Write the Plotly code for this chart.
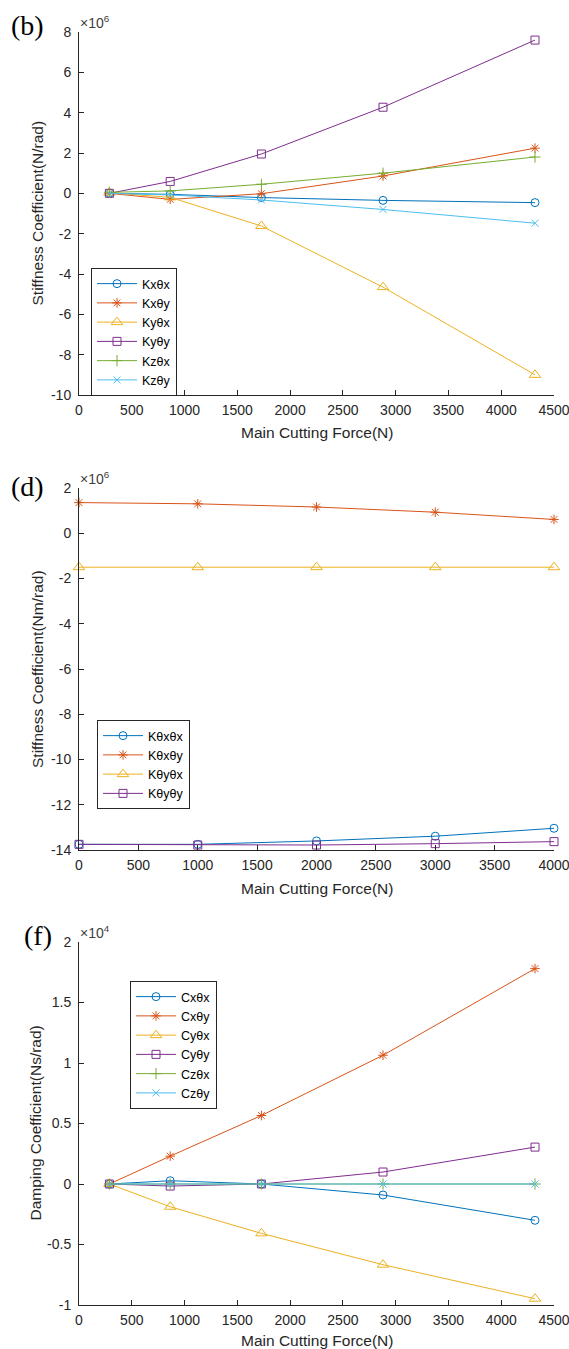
import plotly.graph_objects as go

W, H = 569, 1349

# ---------------- data ----------------
# Panel (b): stiffness coefficients (N/rad) vs main cutting force (N)
force_b = [288, 864, 1728, 2880, 4320]
K_x_tx = [0.0, -0.05e6, -0.21e6, -0.35e6, -0.46e6]
K_x_ty = [0.0, -0.30e6, -0.02e6, 0.86e6, 2.24e6]
K_y_tx = [0.03e6, -0.20e6, -1.62e6, -4.65e6, -9.00e6]
K_y_ty = [0.0, 0.59e6, 1.95e6, 4.27e6, 7.60e6]
K_z_tx = [0.05e6, 0.12e6, 0.45e6, 1.00e6, 1.80e6]
K_z_ty = [0.0, -0.08e6, -0.33e6, -0.80e6, -1.48e6]
names_b = ["Kxθx", "Kxθy", "Kyθx", "Kyθy", "Kzθx", "Kzθy"]

# Panel (d): stiffness coefficients (Nm/rad)
force_d = [0, 1000, 2000, 3000, 4000]
K_tx_tx = [-13.75e6, -13.75e6, -13.60e6, -13.39e6, -13.04e6]
K_tx_ty = [1.355e6, 1.30e6, 1.16e6, 0.93e6, 0.61e6]
K_ty_tx = [-1.50e6, -1.50e6, -1.50e6, -1.50e6, -1.50e6]
K_ty_ty = [-13.75e6, -13.78e6, -13.78e6, -13.72e6, -13.63e6]
names_d = ["Kθxθx", "Kθxθy", "Kθyθx", "Kθyθy"]

# Panel (f): damping coefficients (Ns/rad)
force_f = [288, 864, 1728, 2880, 4320]
C_x_tx = [0.0, 270.0, 0.0, -910.0, -3000.0]
C_x_ty = [0.0, 2300.0, 5660.0, 10640.0, 17800.0]
C_y_tx = [0.0, -1880.0, -4080.0, -6670.0, -9480.0]
C_y_ty = [0.0, -170.0, 0.0, 990.0, 3050.0]
C_z_tx = [0.0, 0.0, 0.0, 0.0, 0.0]
C_z_ty = [0.0, 0.0, 0.0, 0.0, 0.0]
names_f = ["Cxθx", "Cxθy", "Cyθx", "Cyθy", "Czθx", "Czθy"]

# axis ticks
xticks_45 = [0, 500, 1000, 1500, 2000, 2500, 3000, 3500, 4000, 4500]
xticks_40 = [0, 500, 1000, 1500, 2000, 2500, 3000, 3500, 4000]
yticks_b = [-10, -8, -6, -4, -2, 0, 2, 4, 6, 8]
yticks_d = [-14, -12, -10, -8, -6, -4, -2, 0, 2]
yticks_f = [-1, -0.5, 0, 0.5, 1, 1.5, 2]

# ---------------- style ----------------
colors = ["#0072BD", "#D95319", "#EDB120", "#7E2F8E", "#77AC30", "#4DBEEE"]
symbols = ["circle-open", "asterisk-open", "triangle-up-open", "square-open",
           "cross-thin-open", "x-thin-open"]
msizes = [8, 8, 10, 8, 8, 7]
AX = "#262626"
FONT = "Arial, Liberation Sans, sans-serif"
TICK_FS = 14
TITLE_FS = 15.5
LEG_FS = 12.5

# pixel layout
L, R = 79, 554
panels = {  # top, bottom in px
    1: (32, 395),
    2: (488, 850),
    3: (942, 1305),
}

def ydom(top, bot):
    return [1 - bot / H, 1 - top / H]

fig = go.Figure()

def add_series(xs, ys_list, names, idx, legend):
    for i, (ys, nm) in enumerate(zip(ys_list, names)):
        fig.add_trace(go.Scatter(
            x=xs, y=ys, name=nm, mode="lines+markers",
            xaxis="x" if idx == 1 else f"x{idx}",
            yaxis="y" if idx == 1 else f"y{idx}",
            legend=legend,
            cliponaxis=False,
            line=dict(color=colors[i], width=1),
            marker=dict(symbol=symbols[i], size=msizes[i], color=colors[i],
                        line=dict(color=colors[i], width=1)),
        ))

add_series(force_b, [K_x_tx, K_x_ty, K_y_tx, K_y_ty, K_z_tx, K_z_ty], names_b, 1, "legend")
add_series(force_d, [K_tx_tx, K_tx_ty, K_ty_tx, K_ty_ty], names_d, 2, "legend2")
add_series(force_f, [C_x_tx, C_x_ty, C_y_tx, C_y_ty, C_z_tx, C_z_ty], names_f, 3, "legend3")

def fmt(v):
    return f"{v:g}"

def xaxis(ticks, rng, anchor):
    return dict(
        domain=[L / W, R / W], range=rng, anchor=anchor,
        tickvals=ticks, ticktext=[fmt(t) for t in ticks],
        showline=True, linecolor=AX, linewidth=1, mirror=False,
        ticks="inside", ticklen=5, tickcolor=AX, tickwidth=1,
        showgrid=False, zeroline=False, automargin=False,
        tickfont=dict(family=FONT, size=TICK_FS, color=AX),
        ticklabelstandoff=2, ticklabeloverflow="allow",
    )

def yaxis(ticks, scale, rng, dom, anchor):
    return dict(
        domain=dom, range=rng, anchor=anchor,
        tickvals=[t * scale for t in ticks], ticktext=[fmt(t) for t in ticks],
        showline=True, linecolor=AX, linewidth=1, mirror=False,
        ticks="inside", ticklen=5, tickcolor=AX, tickwidth=1,
        showgrid=False, zeroline=False, automargin=False,
        tickfont=dict(family=FONT, size=TICK_FS, color=AX),
        ticklabelstandoff=4, ticklabeloverflow="allow",
    )

legend_common = dict(
    xanchor="left", yanchor="top", bgcolor="white",
    bordercolor=AX, borderwidth=1,
    font=dict(family=FONT, size=LEG_FS, color="black"),
    itemwidth=40, tracegroupgap=0,
)

fig.update_layout(
    width=W, height=H,
    margin=dict(l=0, r=0, t=0, b=0),
    paper_bgcolor="white", plot_bgcolor="white",
    showlegend=True,
    xaxis=xaxis(xticks_45, [0, 4500], "y"),
    yaxis=yaxis(yticks_b, 1e6, [-10e6, 8e6], ydom(*panels[1]), "x"),
    xaxis2=xaxis(xticks_40, [0, 4000], "y2"),
    yaxis2=yaxis(yticks_d, 1e6, [-14e6, 2e6], ydom(*panels[2]), "x2"),
    xaxis3=xaxis(xticks_45, [0, 4500], "y3"),
    yaxis3=yaxis(yticks_f, 1e4, [-1e4, 2e4], ydom(*panels[3]), "x3"),
    legend=dict(x=91 / W, y=1 - 268 / H, **legend_common),
    legend2=dict(x=97 / W, y=1 - 720 / H, **legend_common),
    legend3=dict(x=130 / W, y=1 - 981 / H, **legend_common),
)

annotations = []
ytitles = ["Stiffness Coefficient(N/rad)", "Stiffness Coefficient(Nm/rad)",
           "Damping Coefficient(Ns/rad)"]
xtitle_y = [432, 888, 1340]
ytitle_x = [37, 37, 35]
labels = ["(b)", "(d)", "(f)"]
label_pos = [(27, 25), (27, 486), (38, 935)]
exps = ["×10<sup>6</sup>", "×10<sup>6</sup>", "×10<sup>4</sup>"]
for k in range(3):
    top, bot = panels[k + 1]
    annotations.append(dict(
        text="Main Cutting Force(N)", xref="paper", yref="paper",
        x=(L + R) / 2 / W, y=1 - xtitle_y[k] / H, showarrow=False,
        xanchor="center", yanchor="middle",
        font=dict(family=FONT, size=TITLE_FS, color=AX)))
    annotations.append(dict(
        text=ytitles[k], xref="paper", yref="paper", textangle=-90,
        x=ytitle_x[k] / W, y=1 - (top + bot) / 2 / H, showarrow=False,
        xanchor="center", yanchor="middle",
        font=dict(family=FONT, size=TITLE_FS, color=AX)))
    annotations.append(dict(
        text=labels[k], xref="paper", yref="paper",
        x=label_pos[k][0] / W, y=1 - label_pos[k][1] / H, showarrow=False,
        xanchor="center", yanchor="middle",
        font=dict(family="Times New Roman, Liberation Serif, serif", size=28, color="black")))
    annotations.append(dict(
        text=exps[k], xref="paper", yref="paper",
        x=(L - 1) / W, y=1 - (top - 10) / H, showarrow=False,
        xanchor="left", yanchor="middle",
        font=dict(family=FONT, size=TICK_FS, color="#404040")))

fig.update_layout(annotations=annotations)

fig.write_html("out.html")
